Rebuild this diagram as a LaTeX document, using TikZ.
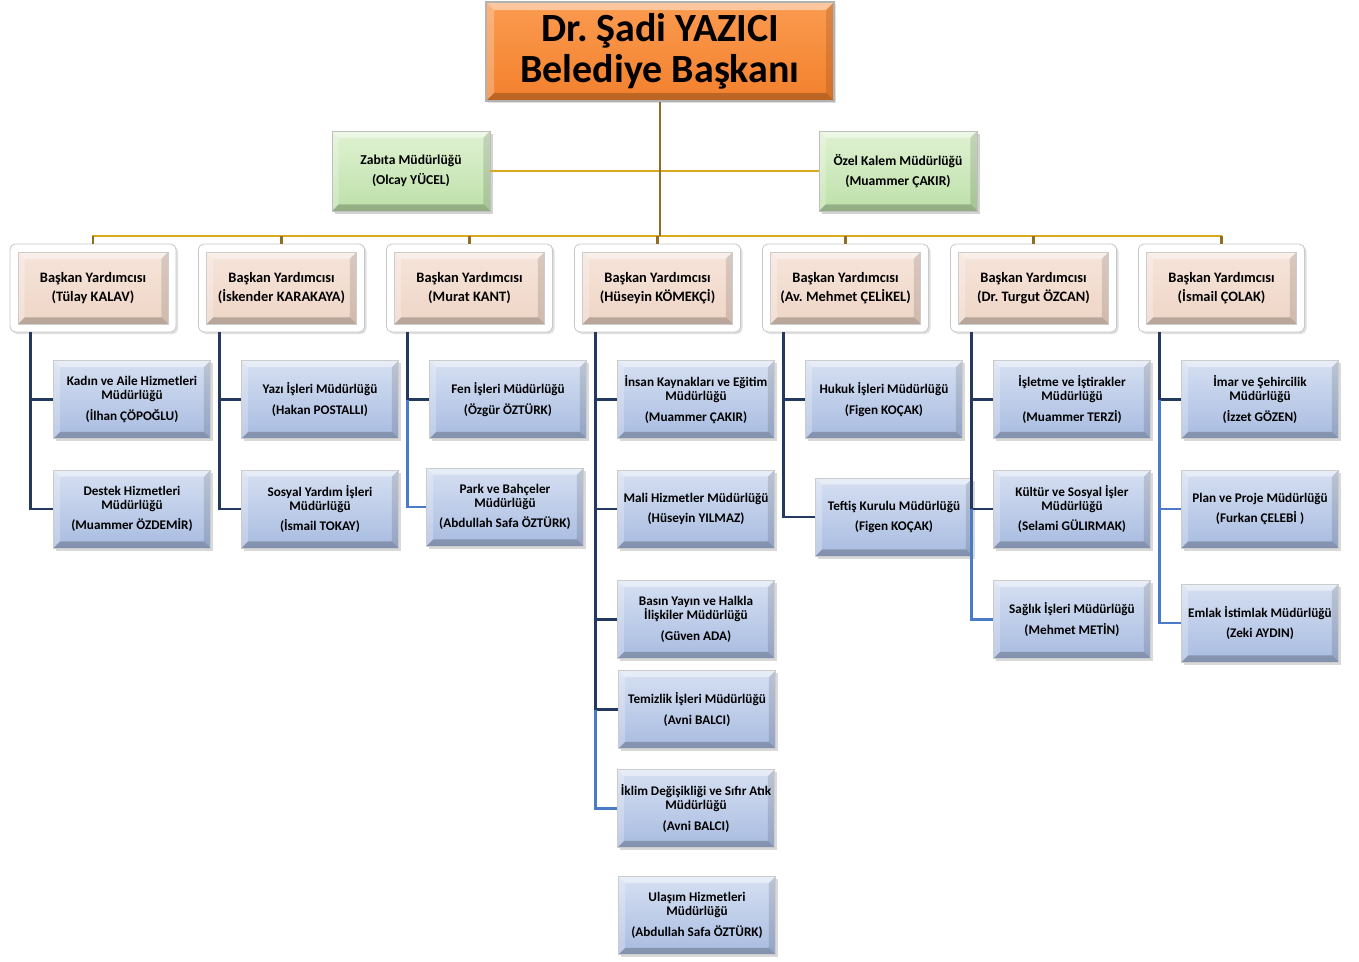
\documentclass[tikz,border=0pt]{standalone}
\usepackage{fontspec}
\setmainfont{Carlito}
\frenchspacing
\usetikzlibrary{shadows,calc}
\definecolor{orangeT}{HTML}{FB9B50}
\definecolor{orangeB}{HTML}{F2802C}
\definecolor{greenT}{HTML}{E0F2D3}
\definecolor{greenB}{HTML}{BDE0A9}
\definecolor{beigeT}{HTML}{F6E4DA}
\definecolor{beigeB}{HTML}{EED5C6}
\definecolor{blueT}{HTML}{D6E0F2}
\definecolor{blueB}{HTML}{A8BBE0}
\definecolor{goldL}{HTML}{D9A91E}
\definecolor{goldD}{HTML}{8E6E22}
\definecolor{navyL}{HTML}{24395F}
\definecolor{blueL}{HTML}{4A7BC8}
\newcommand{\bevelfill}[1]{%
 \fill[white,opacity=.45] (path picture bounding box.north west) -- (path picture bounding box.north east) -- ++(-#1,-#1) -- ($(path picture bounding box.north west)+(#1,-#1)$) -- cycle;
 \fill[white,opacity=.25] (path picture bounding box.north west) -- (path picture bounding box.south west) -- ++(#1,#1) -- ($(path picture bounding box.north west)+(#1,-#1)$) -- cycle;
 \fill[black,opacity=.22] (path picture bounding box.south west) -- (path picture bounding box.south east) -- ++(-#1,#1) -- ($(path picture bounding box.south west)+(#1,#1)$) -- cycle;
 \fill[black,opacity=.12] (path picture bounding box.north east) -- (path picture bounding box.south east) -- ++(-#1,#1) -- ($(path picture bounding box.north east)+(-#1,-#1)$) -- cycle;
}
\tikzset{
 titlebox/.style={rectangle, top color=orangeT, bottom color=orangeB, draw=black!30, line width=1.2pt,
   minimum width=261pt, minimum height=74.25pt, align=center, inner sep=0pt,
   font=\fontsize{30}{30.75}\selectfont\bfseries, path picture={\bevelfill{6pt}},
   drop shadow={opacity=.25, shadow xshift=1.5pt, shadow yshift=-1.5pt}},
 greenbox/.style={rectangle, top color=greenT, bottom color=greenB, draw=black!25, line width=.6pt,
   minimum width=118.5pt, minimum height=60pt, align=center, inner sep=0pt,
   font=\fontsize{10.2}{15}\selectfont\bfseries, path picture={\bevelfill{5pt}},
   drop shadow={opacity=.35, shadow xshift=2pt, shadow yshift=-2pt}},
 byouter/.style={rectangle, rounded corners=4pt, fill=white, draw=black!22, line width=.6pt,
   minimum width=124.5pt, minimum height=66pt,
   drop shadow={opacity=.25, shadow xshift=1.5pt, shadow yshift=-1.5pt}},
 byinner/.style={rectangle, top color=beigeT, bottom color=beigeB, draw=black!20, line width=.4pt,
   minimum width=112.5pt, minimum height=54pt, align=center, inner sep=0pt,
   font=\fontsize{10.8}{14.25}\selectfont\bfseries, path picture={\bevelfill{5pt}}},
 dirbox/.style={rectangle, top color=blueT, bottom color=blueB, draw=black!20, line width=.4pt,
   minimum width=117.75pt, minimum height=58.5pt, align=center, inner sep=0pt,
   font=\fontsize{9.9}{10.5}\selectfont\bfseries, path picture={\bevelfill{5pt}},
   drop shadow={opacity=.3, shadow xshift=2pt, shadow yshift=-2pt}},
 goldline/.style={draw=goldL, line width=2pt},
 golddrop/.style={draw=goldD, line width=2pt},
 darkconn/.style={draw=navyL, line width=2.2pt},
 lightconn/.style={draw=blueL, line width=2.2pt},
}
\begin{document}
\begin{tikzpicture}[x=0.75pt,y=-0.75pt]
\useasboundingbox (0,0) rectangle (1359,961);
\coordinate (hl) at (92,236);
\coordinate (hr) at (1222,236);
% top
\node[titlebox] (top) at (660,51.5) {Dr. Şadi YAZICI\\Belediye Başkanı};
\node[greenbox] (zab) at (411,171) {Zabıta Müdürlüğü\\(Olcay YÜCEL)};
\node[greenbox] (ozk) at (898,171) {Özel Kalem Müdürlüğü\\(Muammer ÇAKIR)};
\draw[goldline] (zab.east) -- (ozk.west);
\draw[goldline] (hl) -- (hr);
\draw[golddrop] (top.south) -- (top.south |- hl);
% BY boxes
\foreach \i/\x/\nm in {1/93/{Tülay KALAV},2/281.5/{İskender KARAKAYA},3/469.5/{Murat KANT},4/657.5/{Hüseyin KÖMEKÇİ},5/845.5/{Av. Mehmet ÇELİKEL},6/1033.5/{Dr. Turgut ÖZCAN},7/1221.5/{İsmail ÇOLAK}}{
  \node[byouter] (bo\i) at (\x,288) {};
  \node[byinner] (b\i) at (\x,288) {Başkan Yardımcısı\\(\nm)};
  \draw[golddrop] (bo\i.north |- hl) -- (bo\i.north);
  \coordinate (c\i) at ($(bo\i.south west)+(15.75pt,0)$);
}
% directorates
\node[dirbox] (d11) at (132,399.5) {Kadın ve Aile Hizmetleri\\Müdürlüğü\\[5pt](İlhan ÇÖPOĞLU)};
\node[dirbox] (d12) at (132,509) {Destek Hizmetleri\\Müdürlüğü\\[5pt](Muammer ÖZDEMİR)};
\node[dirbox] (d21) at (320,399.5) {Yazı İşleri Müdürlüğü\\[5pt](Hakan POSTALLI)};
\node[dirbox] (d22) at (320,509) {Sosyal Yardım İşleri\\Müdürlüğü\\[5pt](İsmail TOKAY)};
\node[dirbox] (d31) at (508,399.5) {Fen İşleri Müdürlüğü\\[5pt](Özgür ÖZTÜRK)};
\node[dirbox] (d32) at (505,507) {Park ve Bahçeler\\Müdürlüğü\\[5pt](Abdullah Safa ÖZTÜRK)};
\node[dirbox] (d41) at (696,399.5) {İnsan Kaynakları ve Eğitim\\Müdürlüğü\\[5pt](Muammer ÇAKIR)};
\node[dirbox] (d42) at (696,509) {Mali Hizmetler Müdürlüğü\\[5pt](Hüseyin YILMAZ)};
\node[dirbox] (d43) at (696,619.5) {Basın Yayın ve Halkla\\İlişkiler Müdürlüğü\\[5pt](Güven ADA)};
\node[dirbox] (d44) at (697,709.5) {Temizlik İşleri Müdürlüğü\\[5pt](Avni BALCI)};
\node[dirbox] (d45) at (696,808.5) {İklim Değişikliği ve Sıfır Atık\\Müdürlüğü\\[5pt](Avni BALCI)};
\node[dirbox] (d46) at (697,915.5) {Ulaşım Hizmetleri\\Müdürlüğü\\[5pt](Abdullah Safa ÖZTÜRK)};
\node[dirbox] (d51) at (884,399.5) {Hukuk İşleri Müdürlüğü\\[5pt](Figen KOÇAK)};
\node[dirbox] (d52) at (894,517) {Teftiş Kurulu Müdürlüğü\\[5pt](Figen KOÇAK)};
\node[dirbox] (d61) at (1072,399.5) {İşletme ve İştirakler\\Müdürlüğü\\[5pt](Muammer TERZİ)};
\node[dirbox] (d62) at (1072,509) {Kültür ve Sosyal İşler\\Müdürlüğü\\[5pt](Selami GÜLIRMAK)};
\node[dirbox] (d63) at (1072,619.5) {Sağlık İşleri Müdürlüğü\\[5pt](Mehmet METİN)};
\node[dirbox] (d71) at (1260,399.5) {İmar ve Şehircilik\\Müdürlüğü\\[5pt](İzzet GÖZEN)};
\node[dirbox] (d72) at (1260,509) {Plan ve Proje Müdürlüğü\\[5pt](Furkan ÇELEBİ )};
\node[dirbox] (d73) at (1260,623) {Emlak İstimlak Müdürlüğü\\[5pt](Zeki AYDIN)};
% blue connectors
\draw[darkconn] (c1) |- (d11.west);
\draw[darkconn] (c1) |- (d12.west);
\draw[darkconn] (c2) |- (d21.west);
\draw[darkconn] (c2) |- (d22.west);
\draw[darkconn] (c3) |- (d31.west);
\draw[lightconn] (c3 |- d31.west) |- (d32.west);
\draw[darkconn] (c4) |- (d41.west);
\draw[darkconn] (c4 |- d41.west) |- (d42.west);
\draw[darkconn] (c4 |- d42.west) |- (d43.west);
\draw[darkconn] (c4 |- d43.west) |- (d44.west);
\draw[lightconn] (c4 |- d44.west) |- (d45.west);
\draw[darkconn] (c5) |- (d51.west);
\draw[darkconn] (c5 |- d51.west) |- (d52.west);
\draw[darkconn] (c6) |- (d61.west);
\draw[darkconn] (c6 |- d61.west) |- (d62.west);
\draw[lightconn] (c6 |- d62.west) |- (d63.west);
\draw[darkconn] (c7) |- (d71.west);
\draw[lightconn] (c7 |- d71.west) |- (d72.west);
\draw[lightconn] (c7 |- d72.west) |- (d73.west);
\end{tikzpicture}
\end{document}
